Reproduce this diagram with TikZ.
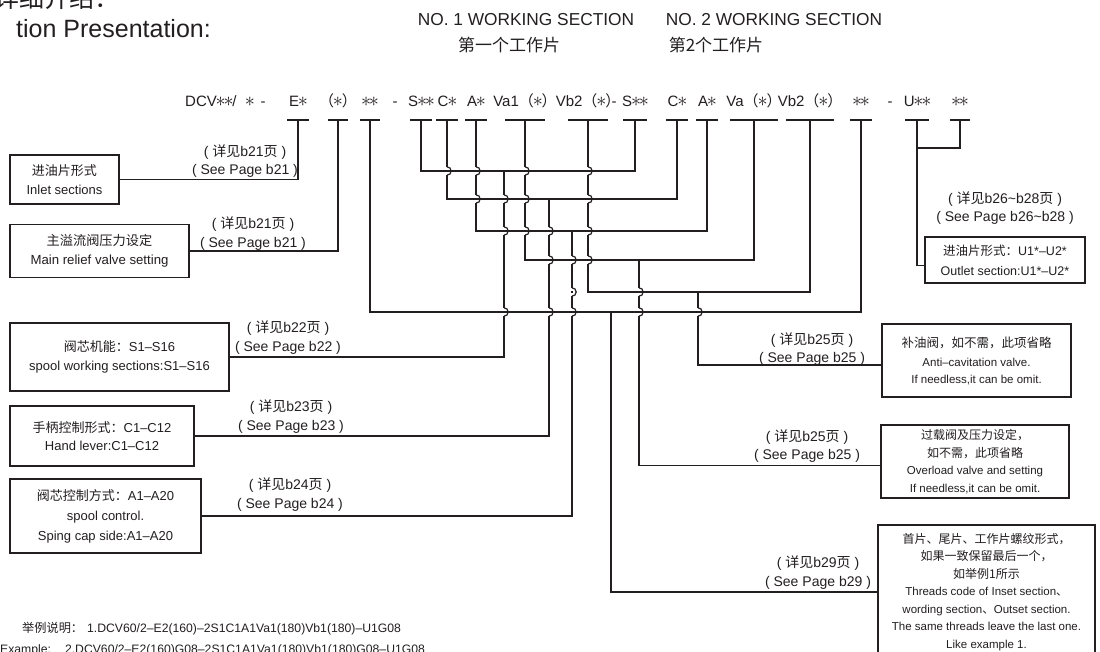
\documentclass[tikz,border=0pt]{standalone}
\usepackage{graphicx}
\usepackage{fontspec}
\setmainfont{Liberation Sans}
\newfontfamily\cjk{Noto Sans CJK SC}
\usetikzlibrary{calc}
\definecolor{ink}{RGB}{35, 31, 32}
\newcommand{\zh}[1]{{\cjk #1}}
\newcommand{\st}{\makebox[0.52em]{\scalebox{1.4}{$\ast$}}}
\newcommand{\pp}{\zh{（}\st\zh{）}}
\newcommand{\fsz}[2]{\fontsize{#1}{#2}\selectfont}
% a vertical wire jumping over a horizontal one
\newcommand{\hop}[2]{%
  \fill[white] ($(#1 |- #2)+(-1.9,-4.2)$) rectangle ($(#1 |- #2)+(1.9,-0.8)$);
  \fill[white] ($(#1 |- #2)+(-1.9,0.8)$) rectangle ($(#1 |- #2)+(1.9,4.2)$);
  \draw[wire] ($(#1 |- #2)+(0,-4.2)$) arc[start angle=-90, end angle=90, radius=4.2];}

\begin{document}
\begin{tikzpicture}[
    x = 1pt, y = -1pt,
    wire/.style = {draw = ink, line width = 1.2pt},
    box/.style = {draw = ink, line width = 1.2pt, align = center, inner sep = 0pt, text = ink},
    tok/.style = {anchor = base, inner sep = 0pt, text = ink, font = \fsz{15pt}{18pt}},
    lbl/.style = {align = center, inner sep = 0pt, text = ink, font = \fsz{14pt}{18.5pt}},
    head/.style = {inner sep = 0pt, text = ink},
]

\useasboundingbox (0,0) rectangle (1100,652);
\fill[white] (0,0) rectangle (1100,652);
\clip (0,0) rectangle (1100,652);

% title and section heads
\node[head, anchor = base west, font = \fsz{25pt}{30pt}] (tiZh) at (-6,8) {\zh{详细介绍：}};
\node[head, anchor = base east, font = \fsz{25pt}{30pt}] (tiEn) at (211,38) {tion Presentation:};
\node[head, font = \fsz{17.3pt}{20pt}] (hNo1) at (526,19.5) {NO. 1 WORKING SECTION};
\node[head, font = \fsz{17pt}{20pt}] (hZh1) at (509,45) {\zh{第一个工作片}};
\node[head, font = \fsz{17.3pt}{20pt}] (hNo2) at (774,19.5) {NO. 2 WORKING SECTION};
\node[head, font = \fsz{17pt}{20pt}] (hZh2) at (716,45) {\zh{第2个工作片}};

% code line
\coordinate (bar) at (0,120);
\node[tok, anchor = base west] (tDCV) at (185,107) {DCV\st\st/};
\node[tok] (tSt) at (250,107) {\st};
\node[tok] (tD1) at (263,107) {-};
\node[tok] (tE) at (298,107) {E\st};
\node[tok] (tP) at (338,107) {\pp};
\node[tok] (tT1) at (370,107) {\st\st};
\node[tok] (tD2) at (395,107) {-};
\node[tok] (tS1) at (421,107) {S\st\st};
\node[tok] (tC1) at (447,107) {C\st};
\node[tok] (tA1) at (476,107) {A\st};
\node[tok] (tVa1) at (525,107) {Va1\pp};
\node[tok] (tVb1) at (588,107) {Vb2\pp};
\node[tok] (tD3) at (614,107) {-};
\node[tok] (tS2) at (635,107) {S\st\st};
\node[tok] (tC2) at (677,107) {C\st};
\node[tok] (tA2) at (707,107) {A\st};
\node[tok] (tVa2) at (754,107) {Va\pp};
\node[tok] (tVb2) at (810,107) {Vb2\pp};
\node[tok] (tT2) at (861,107) {\st\st};
\node[tok] (tD4) at (890,107) {-};
\node[tok] (tU) at (917,107) {U\st\st};
\node[tok] (tU2) at (960,107) {\st\st};

\foreach \t/\w in {tE/11, tP/10, tT1/10, tS1/11, tC1/11, tA1/11, tVa1/20, tVb1/20,
                   tS2/12, tC2/11, tA2/11, tVa2/24, tVb2/24, tT2/11, tU/12, tU2/10}
  \draw[wire] ($(\t |- bar)+(-\w,0)$) -- ($(\t |- bar)+(\w,0)$);

% junctions
\coordinate (jS) at (504,171);
\coordinate (jC) at (549,199);
\coordinate (jA) at (572,231);
\coordinate (jVa) at (639,260);
\coordinate (jVb) at (698,292);
\coordinate (jT) at (611,312);
\coordinate (jU) at (0,148);

% boxes
\node[box, minimum width = 109, minimum height = 49, font = \fsz{13pt}{19.5pt}] (bInlet) at (64.5,179.5)
  {\zh{进油片形式}\\Inlet sections};
\node[box, minimum width = 179, minimum height = 53, font = \fsz{13.2pt}{19.5pt}] (bRelief) at (99.5,251)
  {\zh{主溢流阀压力设定}\\Main relief valve setting};
\node[box, minimum width = 219, minimum height = 68, font = \fsz{13pt}{18.5pt}] (bS) at (119.5,357)
  {\zh{阀芯机能：}S1–S16\\spool working sections:S1–S16};
\node[box, minimum width = 184, minimum height = 60, font = \fsz{13pt}{18.5pt}] (bC) at (102,436)
  {\zh{手柄控制形式：}C1–C12\\Hand lever:C1–C12};
\node[box, minimum width = 191, minimum height = 74, font = \fsz{13pt}{20pt}] (bA) at (105.5,516)
  {\zh{阀芯控制方式：}A1–A20\\spool control.\\Sping cap side:A1–A20};
\node[box, minimum width = 189, minimum height = 73, font = \fsz{11.5pt}{16.5pt}] (bAnti) at (976.5,360.5)
  {{\fsz{12.5pt}{16.5pt}\zh{补油阀，如不需，此项省略}}\\[3pt]Anti–cavitation valve.\\If needless,it can be omit.};
\node[box, minimum width = 188, minimum height = 73, font = \fsz{11.5pt}{17.5pt}] (bOver) at (975,461.5)
  {{\fsz{12pt}{17.5pt}\zh{过载阀及压力设定，}}\\{\fsz{12pt}{17.5pt}\zh{如不需，此项省略}}\\Overload valve and setting\\If needless,it can be omit.};
\node[box, minimum width = 217, minimum height = 134, font = \fsz{11.5pt}{17.5pt}] (bThread) at (986.5,592)
  {{\fsz{12pt}{17.5pt}\zh{首片、尾片、工作片螺纹形式，}}\\{\fsz{12pt}{17.5pt}\zh{如果一致保留最后一个，}}\\{\fsz{12pt}{17.5pt}\zh{如举例1所示}}\\Threads code of Inset section\zh{、}\\wording section\zh{、}Outset section.\\The same threads leave the last one.\\Like example 1.};
\node[box, minimum width = 160, minimum height = 46, font = \fsz{12.5pt}{20pt}] (bOut) at (1005,260)
  {\zh{进油片形式：}U1*–U2*\\Outlet section:U1*–U2*};

% page references
\node[lbl] (lInlet) at (245,161) {( \zh{详见}b21\zh{页} )\\( See Page b21 )};
\node[lbl] (lRelief) at (253,233.5) {( \zh{详见}b21\zh{页} )\\( See Page b21 )};
\node[lbl] (lS) at (288,337.5) {( \zh{详见}b22\zh{页} )\\( See Page b22 )};
\node[lbl] (lC) at (291,416.5) {( \zh{详见}b23\zh{页} )\\( See Page b23 )};
\node[lbl] (lA) at (290,494.5) {( \zh{详见}b24\zh{页} )\\( See Page b24 )};
\node[lbl] (lAnti) at (812,349) {( \zh{详见}b25\zh{页} )\\( See Page b25 )};
\node[lbl] (lOver) at (807,446) {( \zh{详见}b25\zh{页} )\\( See Page b25 )};
\node[lbl] (lThread) at (818,572.5) {( \zh{详见}b29\zh{页} )\\( See Page b29 )};
\node[lbl] (lOut) at (1005,208) {( \zh{详见}b26\textasciitilde b28\zh{页} )\\( See Page b26\textasciitilde b28 )};

% wires
\draw[wire] (tE |- bar) |- (bInlet.east);
\draw[wire] (tP |- bar) |- (bRelief.east);
\draw[wire] (tS1 |- bar) |- (jS) -| (tS2 |- bar);
\draw[wire] (tC1 |- bar) |- (jC) -| (tC2 |- bar);
\draw[wire] (tA1 |- bar) |- (jA) -| (tA2 |- bar);
\draw[wire] (tVa1 |- bar) |- (jVa) -| (tVa2 |- bar);
\draw[wire] (tVb1 |- bar) |- (jVb) -| (tVb2 |- bar);
\draw[wire] (tT1 |- bar) |- (jT) -| (tT2 |- bar);
\draw[wire] (jS) |- (bS.east);
\draw[wire] (jC) |- (bC.east);
\draw[wire] (jA) |- (bA.east);
\draw[wire] (jVa) |- ([yshift=-4pt]bOver.west);
\draw[wire] (jVb) |- ([yshift=-4.5pt]bAnti.west);
\draw[wire] (jT) |- (bThread.west);
\draw[wire] (tU |- bar) |- ([yshift=-5.5pt]bOut.west);
\draw[wire] (tU2 |- bar) |- (tU |- jU);

% jumps
\foreach \v/\h in {tC1/jS, tA1/jS, tA1/jC, tVa1/jS, tVa1/jC, tVa1/jA,
                   tVb1/jS, tVb1/jC, tVb1/jA, tVb1/jVa,
                   jS/jC, jS/jA, jS/jT, jC/jA, jC/jVa, jC/jT,
                   jA/jVa, jA/jVb, jA/jT, jVa/jVb, jVa/jT, jVb/jT}
  {\hop{\v}{\h}}

% examples
\node[head, anchor = base west, font = \fsz{12.2pt}{15pt}] (ex1) at (22,632)
  {\zh{举例说明：}\hspace{4pt}1.DCV60/2–E2(160)–2S1C1A1Va1(180)Vb1(180)–U1G08};
\node[head, anchor = base west, font = \fsz{12.2pt}{15pt}] (ex2) at (0,653)
  {Example:\hspace{14pt}2.DCV60/2–E2(160)G08–2S1C1A1Va1(180)Vb1(180)G08–U1G08};

\end{tikzpicture}
\end{document}
